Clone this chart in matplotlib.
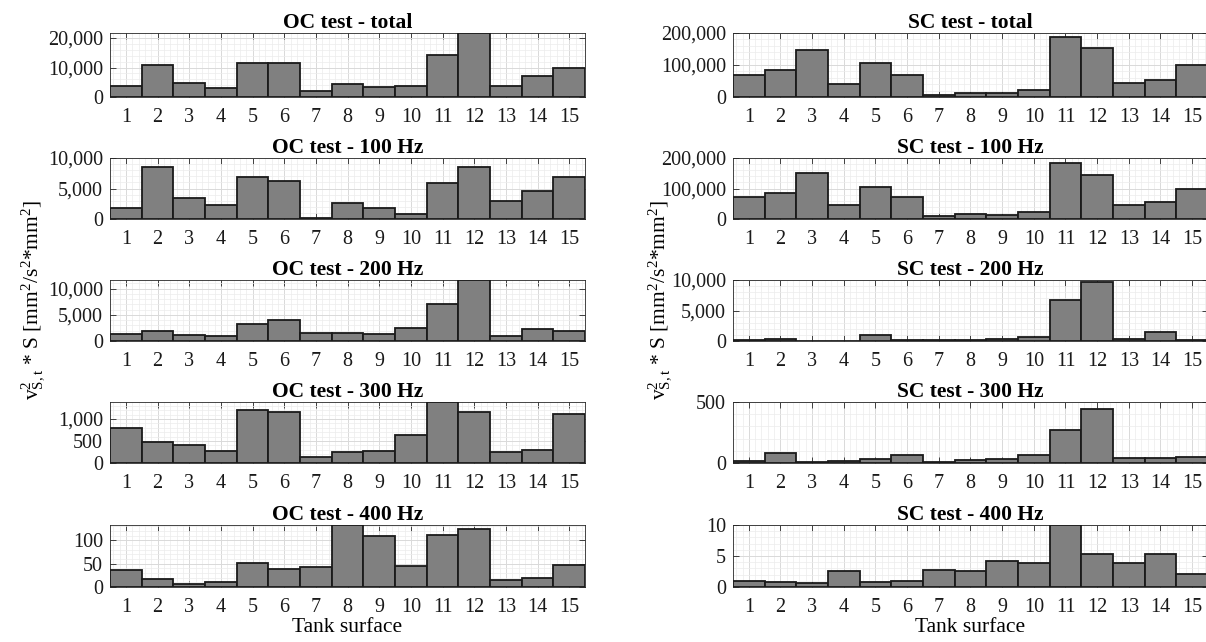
import numpy as np
import matplotlib
matplotlib.use('Agg')
import matplotlib.pyplot as plt
from matplotlib.ticker import FuncFormatter, AutoMinorLocator

plt.rcParams['font.family'] = ['Liberation Serif', 'DejaVu Serif']
plt.rcParams['mathtext.fontset'] = 'custom'
plt.rcParams['mathtext.rm'] = 'Liberation Serif'
plt.rcParams['mathtext.it'] = 'Liberation Serif:italic'

surfaces = np.arange(1, 16)

oc_total = [3700, 10800, 4800, 3100, 11600, 11450, 1900, 4300, 3450, 3800, 14200, 21700, 3800, 7200, 9900]
oc_100 = [1800, 8450, 3500, 2300, 6950, 6150, 200, 2550, 1750, 800, 5850, 8500, 2900, 4600, 6950]
oc_200 = [1250, 2000, 1100, 870, 3300, 4050, 1600, 1450, 1400, 2500, 7000, 11650, 900, 2300, 1950]
oc_300 = [790, 478, 406, 268, 1196, 1167, 145, 254, 283, 630, 1384, 1160, 240, 290, 1116]
oc_400 = [37, 18, 7, 10, 52, 39, 43, 133, 110, 44, 112, 125, 14, 19, 47]

sc_total = [68000, 85000, 148000, 42000, 107000, 69000, 6000, 11500, 11500, 23000, 187000, 152000, 43000, 54000, 99000]
sc_100 = [71000, 86000, 150000, 45500, 106000, 71000, 9500, 15000, 12700, 24000, 183000, 145000, 46500, 55000, 97000]
sc_200 = [230, 290, 60, 20, 1050, 170, 110, 120, 280, 670, 6780, 9600, 350, 1500, 170]
sc_300 = [19, 85, 8, 13, 34, 66, 8, 21, 29, 63, 272, 439, 37, 42, 48]
sc_400 = [1.04, 0.73, 0.57, 2.55, 0.73, 0.89, 2.7, 2.55, 4.27, 3.9, 10.0, 5.3, 3.85, 5.3, 2.14]

left_panels = [
    ('OC test - total', oc_total, [0, 10000, 20000], 21700),
    ('OC test - 100 Hz', oc_100, [0, 5000, 10000], 10000),
    ('OC test - 200 Hz', oc_200, [0, 5000, 10000], 11650),
    ('OC test - 300 Hz', oc_300, [0, 500, 1000], 1384),
    ('OC test - 400 Hz', oc_400, [0, 50, 100], 133),
]
right_panels = [
    ('SC test - total', sc_total, [0, 100000, 200000], 200000),
    ('SC test - 100 Hz', sc_100, [0, 100000, 200000], 200000),
    ('SC test - 200 Hz', sc_200, [0, 5000, 10000], 10000),
    ('SC test - 300 Hz', sc_300, [0, 500], 500),
    ('SC test - 400 Hz', sc_400, [0, 5, 10], 10),
]

W, H = 1206, 642
fig = plt.figure(figsize=(W / 100, H / 100), dpi=100)

rows = [(33, 97), (158, 219), (280, 341), (402, 463), (525, 587)]
cols = [110, 733]
ax_w = 475

fmt = FuncFormatter(lambda v, p: '{:,.0f}'.format(v))


def draw_panel(ax, title, vals, ticks, top):
    ax.bar(surfaces, vals, width=1.0, color='#808080', edgecolor='#1a1a1a', linewidth=1.3, zorder=3)
    ax.set_xlim(0.5, 15.5)
    ax.set_ylim(0, top)
    ax.set_xticks(surfaces)
    ax.set_yticks(ticks)
    ax.yaxis.set_major_formatter(fmt)
    ax.xaxis.set_minor_locator(AutoMinorLocator(5))
    ax.yaxis.set_minor_locator(AutoMinorLocator(5))
    ax.grid(which='major', color='#d9d9d9', linewidth=0.7, zorder=0)
    ax.grid(which='minor', color='#ececec', linewidth=0.5, zorder=0)
    ax.set_axisbelow(True)
    ax.tick_params(which='both', direction='in', top=True, right=True, labelsize=14.5, colors='#262626')
    ax.tick_params(which='major', length=4, width=0.6)
    ax.tick_params(which='minor', length=0)
    ax.tick_params(axis='both', labelcolor='#1a1a1a')
    ax.tick_params(axis='x', pad=8)
    ax.tick_params(axis='y', pad=5)
    for s in ax.spines.values():
        s.set_color('#262626')
        s.set_linewidth(0.6)
    ax.set_title(title, fontsize=15.5, fontweight='bold', pad=2)


for c, panels in zip(cols, [left_panels, right_panels]):
    for (t, b), (title, vals, ticks, top) in zip(rows, panels):
        ax = fig.add_axes([c / W, 1 - b / H, ax_w / W, (b - t) / H])
        draw_panel(ax, title, vals, ticks, top)
        if (t, b) == rows[-1]:
            ax.set_xlabel('Tank surface', fontsize=15.5, labelpad=1)

ylab = r'$\mathrm{v}^2_{\mathrm{S,t}}$ * S [mm$^2$/s$^2$*mm$^2$]'
fig.text(33 / W, 1 - 300 / H, ylab, rotation=90, ha='center', va='center', fontsize=15.5)
fig.text(660 / W, 1 - 300 / H, ylab, rotation=90, ha='center', va='center', fontsize=15.5)

fig.savefig('out.png', dpi=100)
